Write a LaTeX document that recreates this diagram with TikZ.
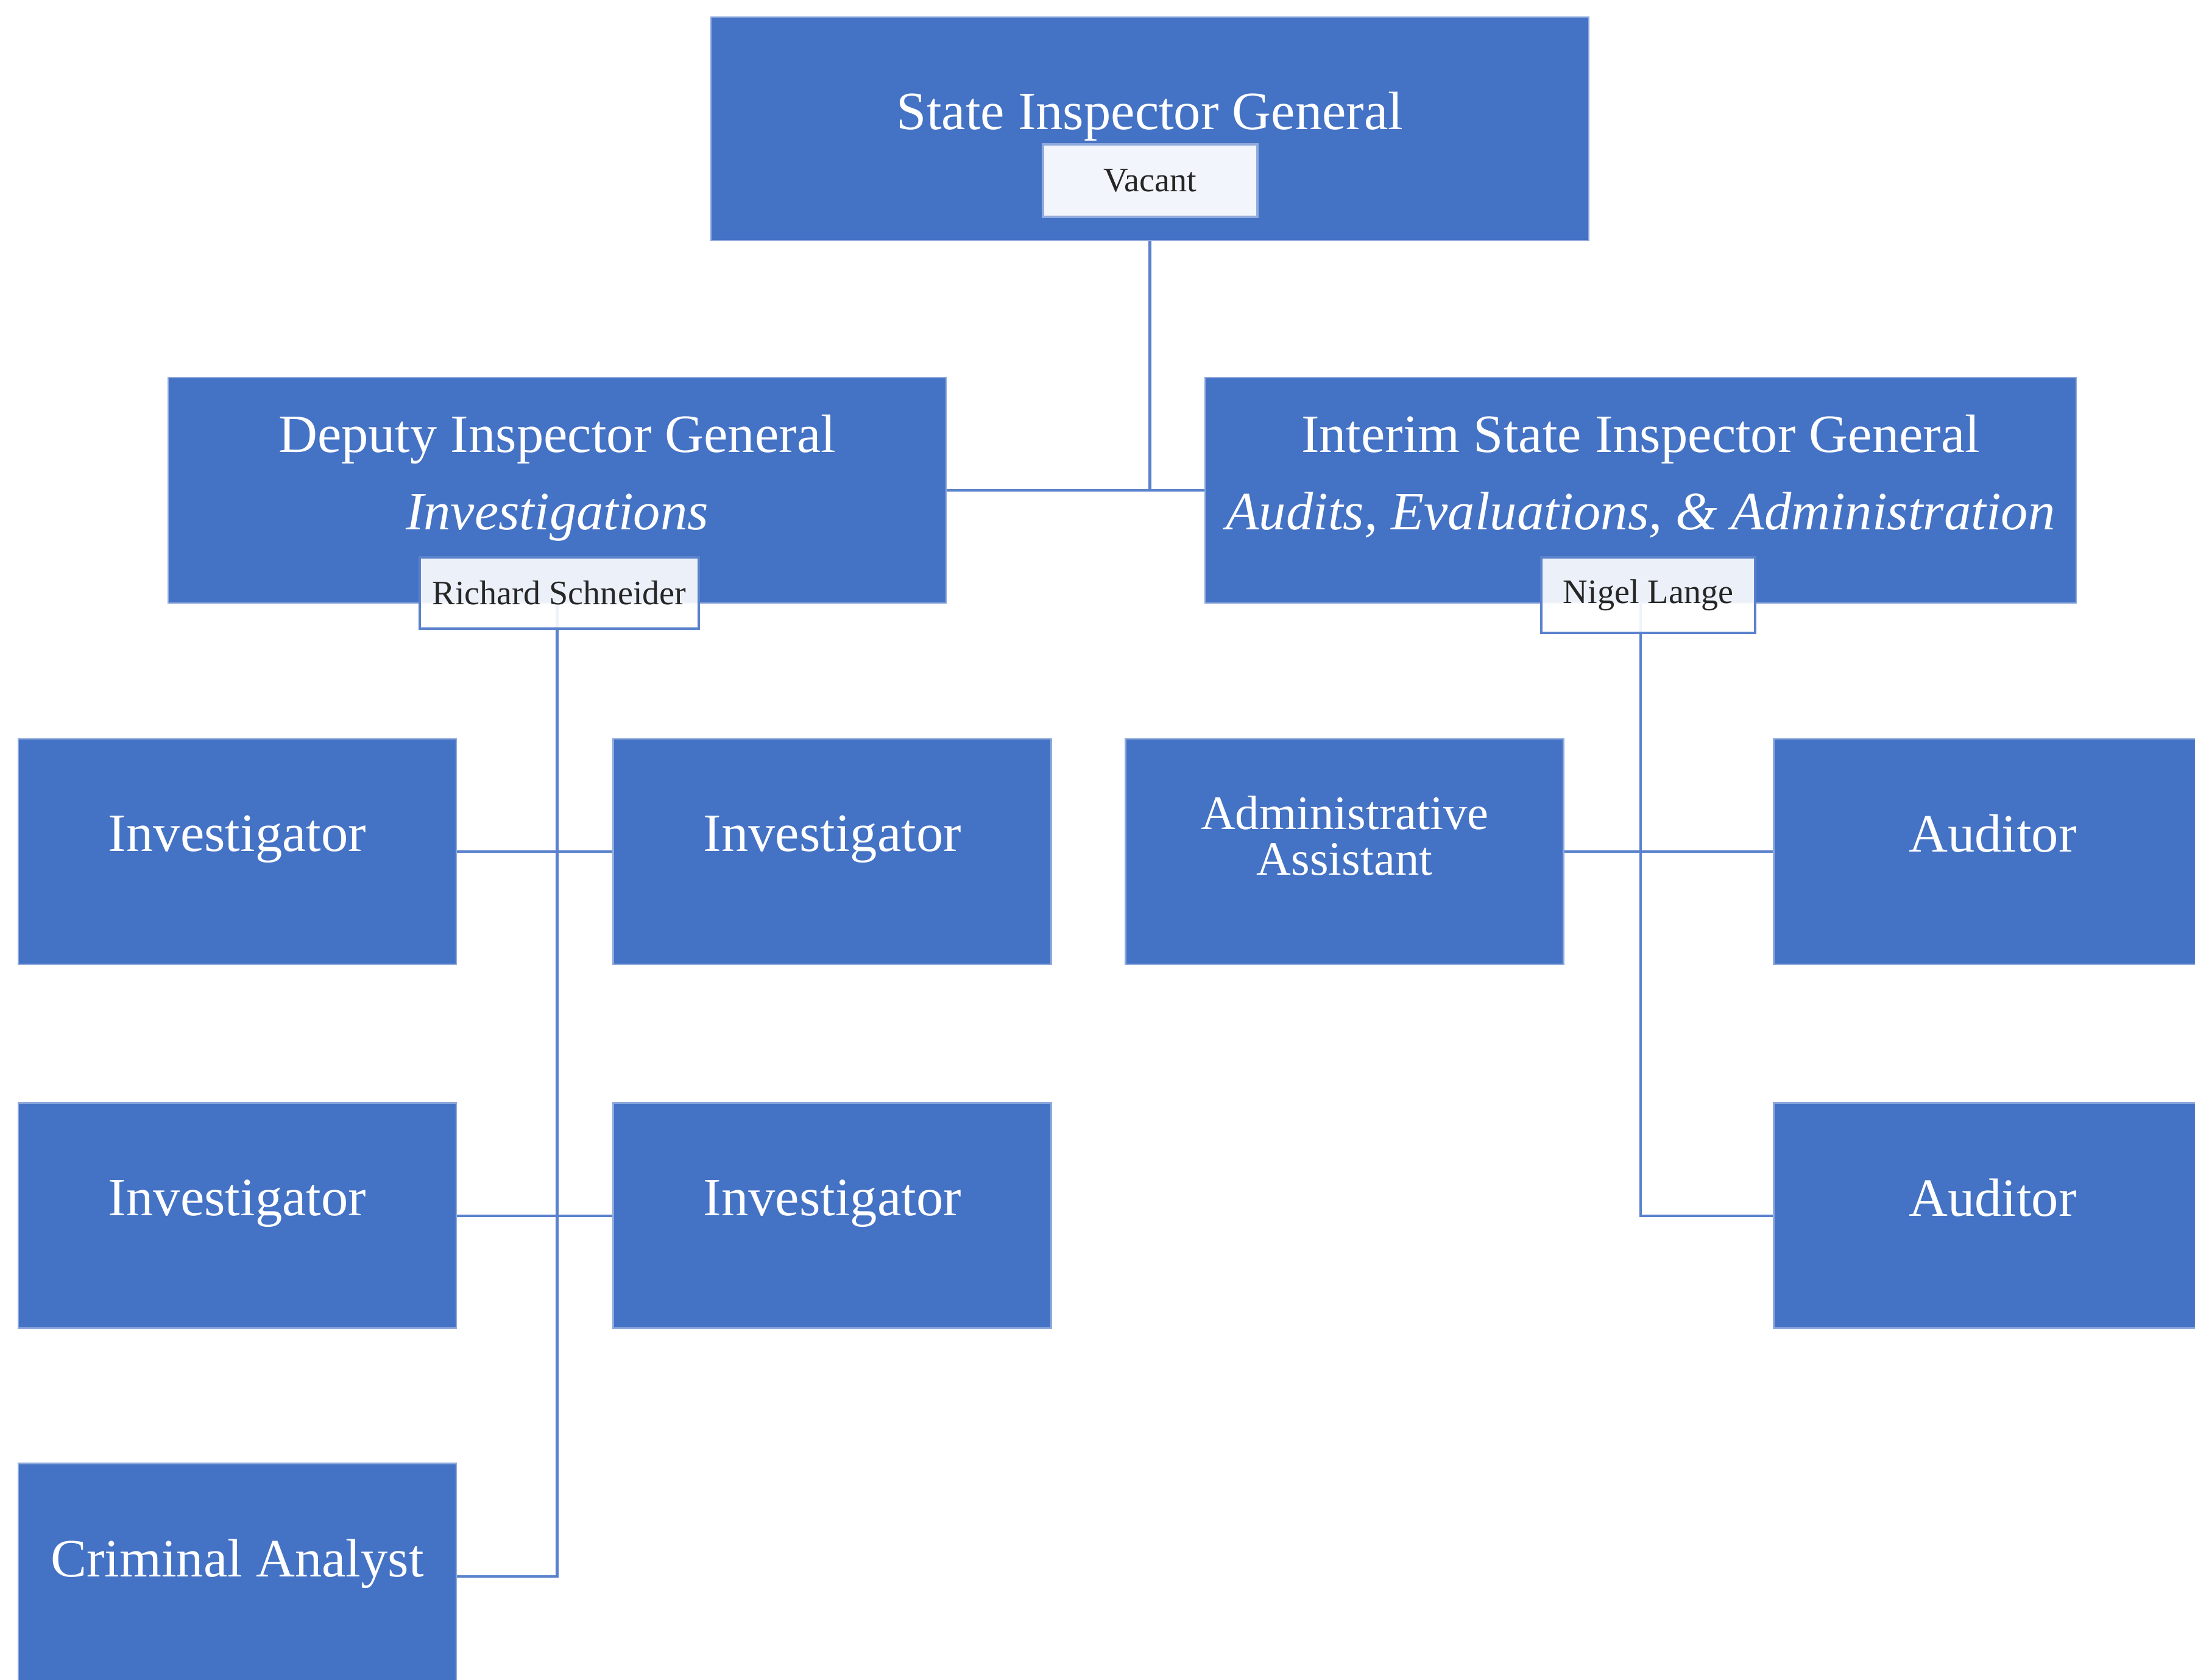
\documentclass[tikz,border=0pt]{standalone}
\usepackage{fontspec}
\setmainfont{Liberation Serif}
\usepackage{xcolor}
\usepackage{tikz}
\usetikzlibrary{positioning,backgrounds}

\definecolor{officeblue}{HTML}{4472C4}
\definecolor{edgeblue}{HTML}{8FAADC}
\definecolor{linkblue}{HTML}{5A82CC}

\begin{document}
\begin{tikzpicture}[
    box/.style={rectangle, draw=edgeblue, line width=0.8pt, fill=officeblue, text=white, align=center, inner sep=0pt},
    topbox/.style={box, minimum width=14.41cm, minimum height=3.67cm, font=\fontsize{25.2}{36}\selectfont, text depth=17pt},
    headbox/.style={box, minimum height=3.70cm, font=\fontsize{25.2}{36}\selectfont, text depth=17pt},
    staffbox/.style={box, minimum width=7.19cm, minimum height=3.70cm, font=\fontsize{25.2}{30}\selectfont, text depth=17pt},
    namebox/.style={rectangle, draw=linkblue, line width=1pt, fill=white, fill opacity=0.9, text opacity=1, text=black!85, font=\fontsize{16}{19}\selectfont, inner sep=0pt},
    link/.style={draw=linkblue, line width=1.2pt}]

    \useasboundingbox (0,0) rectangle (36.03,-27.57);
    \clip (0,0) rectangle (36.03,-27.57);

    % Top
    \node[topbox] (sig) at (18.875,-2.115) {State Inspector General};
    \node[namebox, minimum width=3.52cm, minimum height=1.19cm, draw=edgeblue, fill=white!93!officeblue, fill opacity=1] (vac) at (18.88,-2.965) {Vacant};

    % Deputies
    \node[headbox, minimum width=12.77cm] (dep) at (9.145,-8.05) {Deputy Inspector General\\\textit{Investigations}};
    \node[headbox, minimum width=14.30cm] (int) at (26.93,-8.05) {Interim State Inspector General\\\textit{Audits, Evaluations, \& Administration}};

    % Investigations staff
    \node[staffbox] (inv1) at (3.895,-13.98) {Investigator};
    \node[staffbox, right=2.55cm of inv1] (inv2) {Investigator};
    \node[staffbox, below=2.25cm of inv1] (inv3) {Investigator};
    \node[staffbox, right=2.55cm of inv3] (inv4) {Investigator};
    \node[staffbox, below=2.19cm of inv3] (ca) {Criminal Analyst};

    % Audit staff
    \node[staffbox, right=1.19cm of inv2, font=\fontsize{22.4}{21.5}\selectfont, text depth=15pt] (adm) {Administrative\\Assistant};
    \node[staffbox, right=3.42cm of adm] (aud1) {Auditor};
    \node[staffbox, below=2.25cm of aud1] (aud2) {Auditor};

    % Lines
    \begin{scope}[on background layer]
    \draw[link] (sig.south) -- (sig.south |- dep.east);
    \draw[link] (dep.east) -- (int.west);
    \draw[link] (dep.south) -- (dep.south |- ca.east) -- (ca.east);
    \draw[link] (inv1) -- (inv2);
    \draw[link] (inv3) -- (inv4);
    \draw[link] (int.south) -- (int.south |- aud2.west) -- (aud2.west);
    \draw[link] (adm) -- (aud1);
    \end{scope}

    % Names
    \node[namebox, minimum width=4.58cm, minimum height=1.17cm] (rs) at (9.18,-9.735) {Richard Schneider};
    \node[namebox, minimum width=3.51cm, minimum height=1.24cm] (nl) at (27.055,-9.77) {Nigel Lange};

\end{tikzpicture}
\end{document}
